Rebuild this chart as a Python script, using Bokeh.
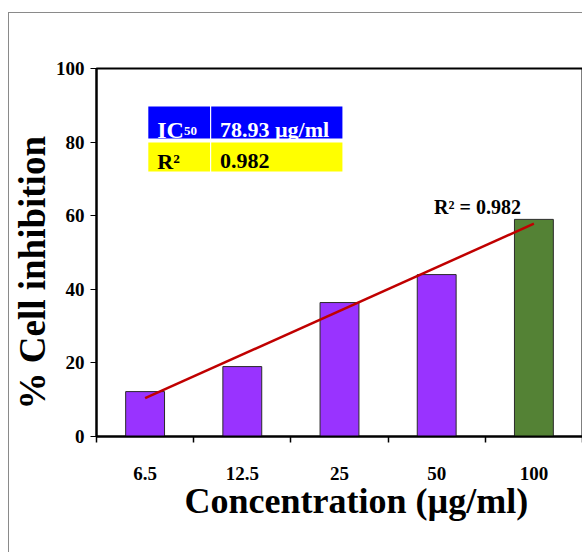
import numpy as np
from bokeh.plotting import figure
from bokeh.models import Range1d, FixedTicker, ColumnDataSource, Label, Title
from bokeh.embed import file_html
from bokeh.resources import INLINE

# ---- data ----
concentrations = ["6.5", "12.5", "25", "50", "100"]
inhibition = [12.2, 19.0, 36.4, 44.0, 59.0]
bar_colors = ["#9933FF", "#9933FF", "#9933FF", "#9933FF", "#548235"]
ic50_text = "78.93 µg/ml"
r2_text = "0.982"
x_title = "Concentration (µg/ml)"
y_title = "% Cell inhibition"

FONT = "Liberation Serif"
idx = list(range(1, len(concentrations) + 1))

p = figure(width=574, height=540, output_backend="svg", toolbar_location=None,
           x_range=Range1d(0.5, 5.5), y_range=Range1d(0, 100),
           min_border_left=85, min_border_right=1, min_border_top=55, min_border_bottom=117)
p.styles = {"margin-top": "12px", "margin-left": "8px",
            "border-left": "1px solid #8a8a8a", "border-top": "1px solid #8a8a8a"}
p.grid.visible = False
p.outline_line_color = "black"
p.outline_line_width = 2
p.background_fill_color = "white"
p.border_fill_color = "white"

src = ColumnDataSource(dict(x=idx, top=inhibition, color=bar_colors))
p.vbar(x="x", top="top", width=0.4, fill_color="color", line_color="#2a2a2a", line_width=1, source=src)

# linear trend line (least squares fit over category index)
slope, intercept = np.polyfit(idx, inhibition, 1)
tx = [idx[0], idx[-1]]
ty = [slope * v + intercept for v in tx]
p.line(tx, ty, line_color="#C00000", line_width=2.5)

# Y axis
ya = p.yaxis[0]
ya.ticker = FixedTicker(ticks=[0, 20, 40, 60, 80, 100])
ya.axis_line_width = 2
ya.major_tick_out = 6
ya.major_tick_in = 0
ya.minor_tick_line_color = None
ya.major_label_text_font = FONT
ya.major_label_text_font_style = "bold"
ya.major_label_text_font_size = "19px"
ya.major_label_text_color = "black"
ya.major_label_standoff = 6

# X axis
xa = p.xaxis[0]
xa.ticker = FixedTicker(ticks=idx, minor_ticks=[i - 0.5 for i in idx] + [idx[-1] + 0.5])
xa.major_label_overrides = {i: c for i, c in zip(idx, concentrations)}
xa.axis_line_width = 2
xa.major_tick_line_color = None
xa.major_tick_out = 0
xa.major_tick_in = 0
xa.minor_tick_line_color = "black"
xa.minor_tick_line_width = 1.5
xa.minor_tick_out = 6
xa.minor_tick_in = 0
xa.major_label_text_font = FONT
xa.major_label_text_font_style = "bold"
xa.major_label_text_font_size = "19px"
xa.major_label_text_color = "black"
xa.major_label_standoff = 24

# axis titles (as titles so they can sit slightly off-centre like the original)
p.add_layout(Title(text=x_title, align="left", offset=88, standoff=-7,
                   text_font=FONT, text_font_style="bold", text_font_size="36px",
                   text_color="black"), "below")
p.add_layout(Title(text=y_title, align="left", offset=27, standoff=0,
                   text_font=FONT, text_font_style="bold", text_font_size="37px",
                   text_color="black"), "left")

# IC50 / R2 table
p.quad(left=[1.033, 1.68], right=[1.668, 3.03], top=[89.7, 89.7], bottom=[81.0, 81.0],
       fill_color="#0000FF", line_color=None)
p.quad(left=[1.033, 1.68], right=[1.668, 3.03], top=[79.9, 79.9], bottom=[72.0, 72.0],
       fill_color="#FFFF00", line_color=None)

def lab(x, y, text, color, size):
    p.add_layout(Label(x=x, y=y, text=text, text_color=color, text_font=FONT,
                       text_font_style="bold", text_font_size=size, text_baseline="alphabetic"))

lab(1.125, 83.4, "IC", "white", "24px")
lab(1.40, 83.0, "50", "white", "13px")
lab(1.77, 83.4, ic50_text, "white", "22px")
lab(1.125, 74.8, "R²", "black", "22px")
lab(1.77, 74.8, r2_text, "black", "22px")

p.add_layout(Label(x=4.42, y=62.5, text="R² = " + r2_text, text_align="center", text_baseline="middle",
                   text_font=FONT, text_font_style="bold", text_font_size="20px", text_color="black"))

open("out.html", "w").write(file_html(p, INLINE))
